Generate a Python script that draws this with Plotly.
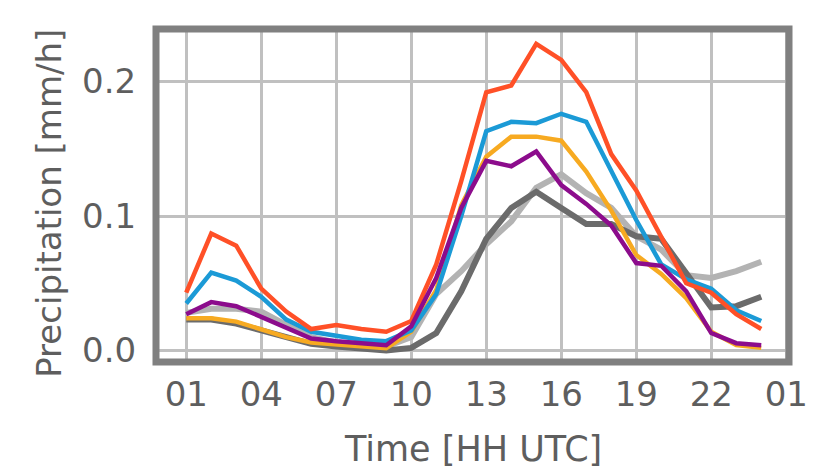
import plotly.graph_objects as go

# Hourly mean precipitation (mm/h), hours 01..24 UTC
hours = list(range(1, 25))

obs_light = [0.028, 0.031, 0.031, 0.029, 0.019, 0.010, 0.006, 0.004, 0.003, 0.010,
             0.042, 0.059, 0.079, 0.096, 0.121, 0.131, 0.117, 0.106, 0.085, 0.075,
             0.056, 0.054, 0.059, 0.066]
obs_dark = [0.023, 0.023, 0.020, 0.015, 0.009, 0.005, 0.003, 0.002, 0.000, 0.002,
            0.013, 0.044, 0.083, 0.106, 0.118, 0.106, 0.094, 0.094, 0.085, 0.083,
            0.057, 0.032, 0.033, 0.040]
run_orange = [0.024, 0.024, 0.0215, 0.016, 0.010, 0.006, 0.0047, 0.003, 0.0017, 0.014,
              0.045, 0.108, 0.144, 0.159, 0.159, 0.156, 0.133, 0.104, 0.071, 0.057,
              0.039, 0.014, 0.004, 0.002]
run_blue = [0.035, 0.058, 0.052, 0.040, 0.023, 0.014, 0.011, 0.008, 0.007, 0.015,
            0.042, 0.100, 0.163, 0.170, 0.169, 0.176, 0.170, 0.134, 0.097, 0.064,
            0.053, 0.046, 0.030, 0.022]
run_red = [0.043, 0.087, 0.078, 0.046, 0.029, 0.016, 0.019, 0.016, 0.014, 0.022,
           0.064, 0.126, 0.192, 0.197, 0.228, 0.216, 0.192, 0.146, 0.119, 0.084,
           0.050, 0.043, 0.027, 0.016]
run_purple = [0.027, 0.036, 0.033, 0.025, 0.017, 0.009, 0.007, 0.0055, 0.004, 0.018,
              0.054, 0.106, 0.141, 0.137, 0.148, 0.123, 0.109, 0.093, 0.065, 0.063,
              0.044, 0.013, 0.0055, 0.004]

tick_vals = [1, 4, 7, 10, 13, 16, 19, 22, 25]
tick_text = ["01", "04", "07", "10", "13", "16", "19", "22", "01"]
y_ticks = [0.0, 0.1, 0.2]
y_tick_text = ["0.0", "0.1", "0.2"]

series = [
    (obs_light, "#b3b3b3", 6),
    (obs_dark, "#6b6b6b", 6),
    (run_orange, "#f7aa21", 4.5),
    (run_blue, "#1b9ad6", 4.5),
    (run_red, "#ff5027", 4.5),
    (run_purple, "#8c0c8c", 4.5),
]

fig = go.Figure()
for vals, color, width in series:
    fig.add_trace(go.Scatter(x=hours, y=vals, mode="lines",
                             line=dict(color=color, width=width),
                             showlegend=False, hoverinfo="skip"))

text_color = "#5e5e5e"
font_family = "DejaVu Sans"
clear = "rgba(0,0,0,0)"

fig.update_layout(
    width=820, height=476,
    margin=dict(l=156, r=22, t=29, b=114),
    paper_bgcolor="white", plot_bgcolor="white",
    font=dict(family=font_family, size=34, color=text_color),
    xaxis=dict(range=[-0.21, 25.11], tickvals=tick_vals, ticktext=tick_text,
               showgrid=True, gridcolor="#c0c0c0", gridwidth=2.5,
               zeroline=False, showline=False,
               ticks="outside", ticklen=2, tickcolor=clear,
               tickfont=dict(size=34, color=text_color)),
    yaxis=dict(range=[-0.0085, 0.239], tickvals=y_ticks, ticktext=y_tick_text,
               showgrid=True, gridcolor="#c0c0c0", gridwidth=2.5,
               zeroline=False, showline=False,
               ticks="outside", ticklen=12, tickcolor=clear,
               tickfont=dict(size=34, color=text_color)),
    shapes=[dict(type="rect", xref="paper", yref="paper", x0=0, x1=1, y0=0, y1=1,
                 line=dict(color="#808080", width=7), layer="above")],
    annotations=[
        dict(text="Time [HH UTC]", xref="paper", yref="paper", x=0.5, y=-0.26,
             xanchor="center", yanchor="middle", showarrow=False,
             font=dict(size=35, color=text_color, family=font_family)),
        dict(text="Precipitation [mm/h]", xref="paper", yref="paper", x=-0.168, y=0.477,
             xanchor="center", yanchor="middle", textangle=-90, showarrow=False,
             font=dict(size=34, color=text_color, family=font_family)),
    ],
)

fig.write_html("out.html")
